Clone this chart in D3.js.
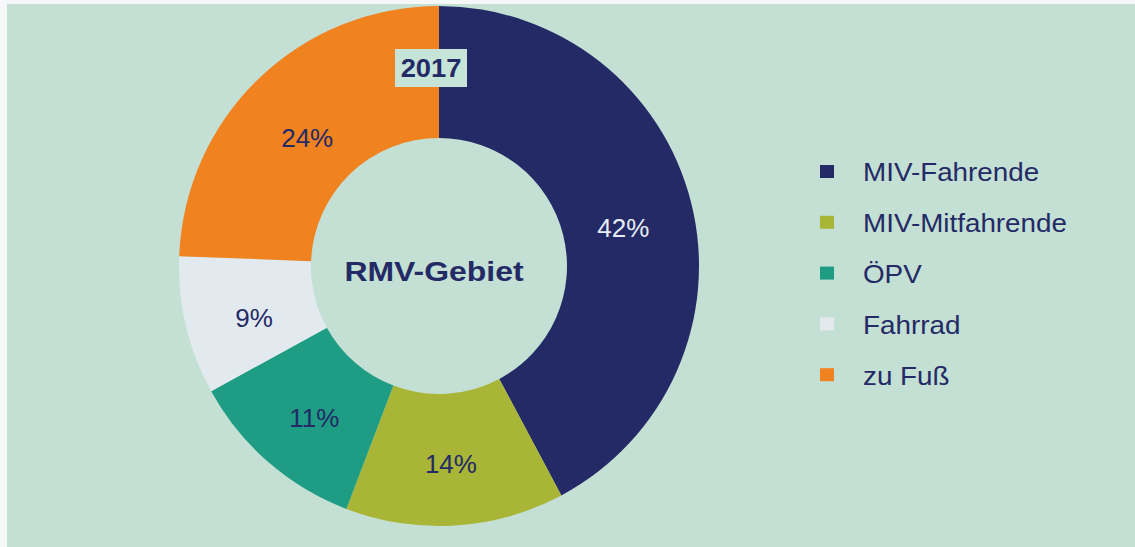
<!DOCTYPE html>
<html>
<head>
<meta charset="utf-8">
<script src="https://cdn.jsdelivr.net/npm/d3@7"></script>
<style>
    html, body { margin: 0; padding: 0; background: #f5f7f8; }
    svg { display: block; font-family: "Liberation Sans", Arial, sans-serif; }
</style>
</head>
<body>
<svg width="1135" height="547"></svg>
<script>
(function () {

    var categories = ["MIV-Fahrende", "MIV-Mitfahrende", "ÖPV", "Fahrrad", "zu Fuß"];
    var shares = [42.2, 13.6, 11.2, 8.6, 24.4];
    var colors = ["#232a66", "#a9b537", "#1e9c84", "#e3eaef", "#f0821f"];
    var labelColors = ["#e8ecf4", "#232a66", "#232a66", "#232a66", "#232a66"];
    var centerLabel = "RMV-Gebiet";
    var yearLabel = "2017";

    var svg = d3.select("svg"),
        width = +svg.attr("width"),
        height = +svg.attr("height");

    // mint panel
    svg.append("rect")
        .attr("x", 7).attr("y", 4)
        .attr("width", width - 7).attr("height", height - 4)
        .attr("fill", "#c4dfd3");

    var cx = 439, cy = 266,
        outerR = 260, innerR = 128;

    var data = categories.map(function (c, i) {
        return { name: c, value: shares[i], color: colors[i], labelColor: labelColors[i] };
    });

    var pie = d3.pie().sort(null).value(d => d.value);
    var arc = d3.arc().innerRadius(innerR).outerRadius(outerR);
    var labelArc = d3.arc().innerRadius(190).outerRadius(190);

    var g = svg.append("g").attr("transform", "translate(" + cx + "," + cy + ")");

    var arcs = pie(data);

    g.selectAll(".slice")
        .data(arcs)
        .enter().append("path")
        .attr("class", "slice")
        .attr("d", arc)
        .attr("fill", d => d.data.color);

    g.selectAll(".pct")
        .data(arcs)
        .enter().append("text")
        .attr("class", "pct")
        .attr("transform", d => {
            var c = labelArc.centroid(d);
            return "translate(" + c[0] + "," + (c[1] + 8) + ")";
        })
        .attr("text-anchor", "middle")
        .attr("dy", "0.36em")
        .attr("font-size", 26)
        .attr("fill", d => d.data.labelColor)
        .text(d => Math.round(d.data.value) + "%");

    g.append("text")
        .attr("text-anchor", "middle")
        .attr("dy", "0.36em")
        .attr("transform", "translate(-5,5) scale(1.14,1)")
        .attr("font-size", 28)
        .attr("font-weight", "bold")
        .attr("fill", "#232a66")
        .text(centerLabel);

    // year tag at the top
    g.append("rect")
        .attr("x", -44).attr("y", -217)
        .attr("width", 72).attr("height", 38)
        .attr("fill", "#c6e4d7");

    g.append("text")
        .attr("transform", "translate(-8,-198) scale(1.05,1)")
        .attr("dy", "0.36em")
        .attr("text-anchor", "middle")
        .attr("font-size", 26)
        .attr("font-weight", "bold")
        .attr("fill", "#232a66")
        .text(yearLabel);

    // legend
    var legend = svg.append("g").attr("transform", "translate(820,172)");

    var item = legend.selectAll(".item")
        .data(data)
        .enter().append("g")
        .attr("class", "item")
        .attr("transform", (d, i) => "translate(0," + i * 50.8 + ")");

    item.append("rect")
        .attr("x", 0).attr("y", -7)
        .attr("width", 14).attr("height", 13)
        .attr("fill", d => d.color);

    item.append("text")
        .attr("transform", "translate(43,0) scale(1.07,1)")
        .attr("dy", "0.36em")
        .attr("font-size", 26)
        .attr("fill", "#232a66")
        .text(d => d.name);

})();
</script>
</body>
</html>
